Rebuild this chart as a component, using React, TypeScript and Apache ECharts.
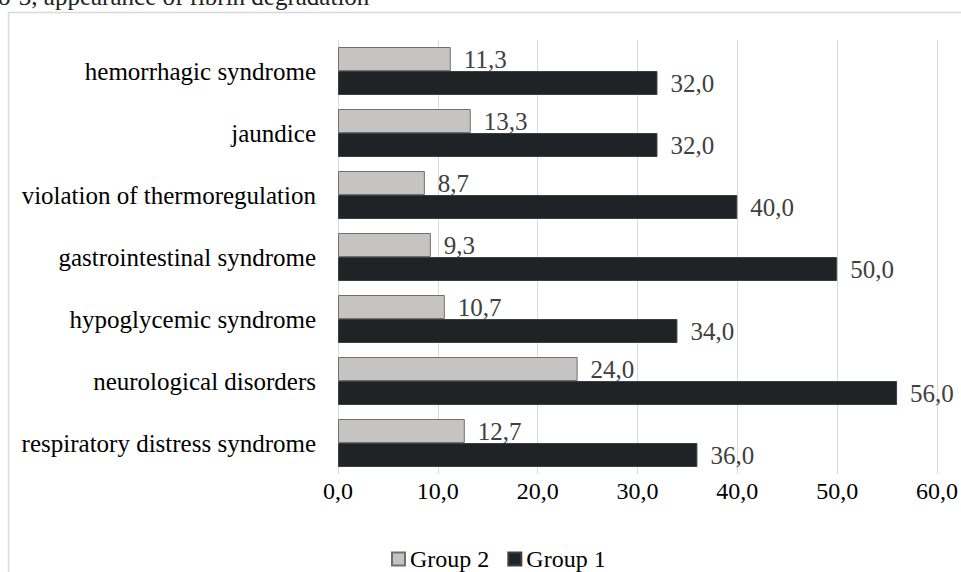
import React, { useEffect, useRef } from "react";
import * as echarts from "echarts";

const categories = [
  "hemorrhagic syndrome",
  "jaundice",
  "violation of thermoregulation",
  "gastrointestinal syndrome",
  "hypoglycemic syndrome",
  "neurological disorders",
  "respiratory distress syndrome",
];
const group2 = [11.3, 13.3, 8.7, 9.3, 10.7, 24.0, 12.7];
const group1 = [32.0, 32.0, 40.0, 50.0, 34.0, 56.0, 36.0];
const seriesNames = ["Group 2", "Group 1"];
const headerText = "o-3, appearance of fibrin degradation";

const FONT = "'Liberation Serif', 'Times New Roman', serif";
const FS = 25;
const fmt = (v: number) => v.toFixed(1).replace(".", ",");

export default function App() {
  const ref = useRef<HTMLDivElement>(null);
  useEffect(() => {
    if (!ref.current) return;
    const chart = echarts.init(ref.current, undefined, { renderer: "svg" });
    const labelStyle = {
      show: true,
      position: "right" as const,
      distance: 13,
      color: "#404040",
      fontFamily: FONT,
      fontSize: FS,
      formatter: (p: any) => fmt(p.value),
    };
    chart.setOption({
      animation: false,
      backgroundColor: "#ffffff",
      graphic: [
        {
          type: "rect",
          shape: { x: 8.5, y: 12.5, width: 960, height: 600 },
          style: { fill: "none", stroke: "#d9d9d9", lineWidth: 1.5 },
          silent: true,
        },
        {
          type: "text",
          x: -2,
          y: 9,
          style: {
            text: headerText,
            fontFamily: FONT,
            fontSize: 25,
            fill: "#222",
            textVerticalAlign: "bottom",
          },
          silent: true,
        },
      ],
      grid: { left: 338, right: 23, top: 40, bottom: 98 },
      legend: {
        data: seriesNames,
        left: 386,
        top: 542,
        icon: "rect",
        itemWidth: 13,
        itemHeight: 13,
        itemGap: 18,
        textStyle: { fontFamily: FONT, fontSize: FS - 1, color: "#000" },
      },
      xAxis: {
        type: "value",
        min: 0,
        max: 60,
        interval: 10,
        axisLine: { show: false },
        axisTick: { show: false },
        splitLine: { lineStyle: { color: "#d9d9d9", width: 1 } },
        axisLabel: {
          formatter: (v: number) => fmt(v),
          color: "#000",
          fontFamily: FONT,
          fontSize: FS - 1,
          margin: 5,
        },
      },
      yAxis: {
        type: "category",
        data: categories,
        inverse: true,
        axisLine: { show: false },
        axisTick: { show: false },
        axisLabel: {
          color: "#000",
          fontFamily: FONT,
          fontSize: FS,
          margin: 22,
        },
      },
      series: [
        {
          name: seriesNames[0],
          type: "bar",
          data: group2,
          barWidth: 24,
          barGap: "0%",
          itemStyle: { color: "#c6c4c2", borderColor: "#707070", borderWidth: 1 },
          label: labelStyle,
        },
        {
          name: seriesNames[1],
          type: "bar",
          data: group1,
          barWidth: 24,
          barGap: "0%",
          itemStyle: { color: "#1f2326", borderColor: "#3c3f42", borderWidth: 1 },
          label: labelStyle,
        },
      ],
    });
    return () => chart.dispose();
  }, []);
  return (
    <div
      ref={ref}
      style={{ position: "fixed", left: 0, top: 0, width: 961, height: 572 }}
    />
  );
}
